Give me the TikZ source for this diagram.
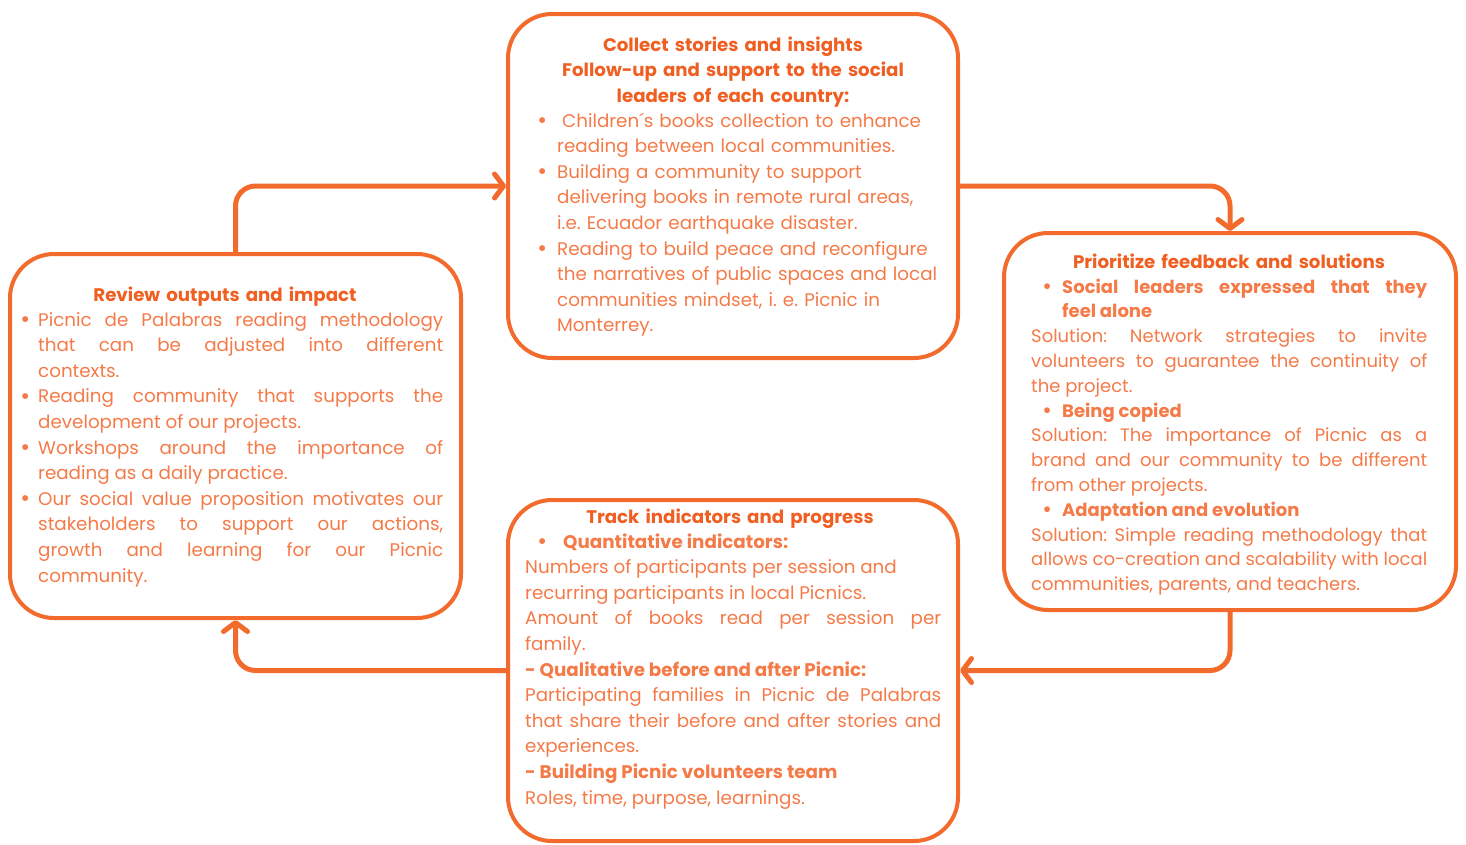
\documentclass[tikz,border=0pt]{standalone}
\usepackage{fontspec}
\setmainfont{Poppins}
\usetikzlibrary{arrows.meta}
\definecolor{picnic}{HTML}{F26B2C}
\definecolor{picnichead}{HTML}{EF5F22}
\definecolor{picnictext}{HTML}{F47A48}
\tikzset{>={Straight Barb[round,length=9pt,width=24pt]}}
\frenchspacing
% bullet paragraph: #1 bullet offset, #2 hanging indent
\newcommand\bul[2]{\noindent\hangindent=#2\relax\hangafter=1\relax\hbox to #2{\hskip#1\hbox to 6pt{\hss\raisebox{-1.2pt}{\scalebox{1.3}{\textbullet}}\hss}\hfil}\ignorespaces}
\newcommand\np{\par\noindent}

\begin{document}
\begin{tikzpicture}[x=1pt,y=-1pt,
  stage/.style={draw=picnic, line width=4pt, rounded corners=44pt, inner sep=0pt},
  flow/.style={draw=picnic, line width=5pt, rounded corners=20pt, ->, line cap=round},
  head/.style={text=picnichead, font=\fontsize{18.2}{25.5}\selectfont\bfseries, align=center, inner sep=0pt, anchor=base},
  body/.style={text=picnictext, font=\fontsize{18.3}{25.6}\selectfont, inner sep=0pt, anchor=base west, align=justify}
]
\useasboundingbox (0,0) rectangle (1466,844);

% the four stages
\node[stage, minimum width=450pt, minimum height=344pt] (collect) at (733,186) {};
\node[stage, minimum width=451pt, minimum height=364pt] (review) at (235.5,436) {};
\node[stage, minimum width=452pt, minimum height=377pt] (prio) at (1230,421.5) {};
\node[stage, minimum width=450pt, minimum height=341pt] (track) at (733,670.5) {};

% cycle
\draw[flow] (review.north) |- (collect.west);
\draw[flow] (collect.east) -| (prio.north);
\draw[flow] (prio.south) |- (track.east);
\draw[flow] (track.west) -| (review.south);

% collect
\node[head, text width=440pt] (collecthead) at (733,51) {Collect stories and insights\\Follow-up and support to the social\\leaders of each country:};
\node[body, text width=405pt, align=left] (collecttext) at (542,127) {%
\bul{-3pt}{15pt}\hspace{5pt}Children´s books collection to enhance\newline reading between local communities.
\par\bul{-3pt}{15pt}Building a community to support\newline delivering books in remote rural areas,\newline i.e. Ecuador earthquake disaster.
\par\bul{-3pt}{15pt}Reading to build peace and reconfigure\newline the narratives of public spaces and local\newline communities mindset, i. e. Picnic in\newline Monterrey.\par};

% review
\node[head, text width=440pt] (reviewhead) at (225,301) {Review outputs and impact};
\node[body, text width=419pt] (reviewtext) at (24,326) {%
\bul{-2pt}{14pt}Picnic de Palabras reading methodology\linebreak that can be adjusted into different\linebreak contexts.
\par\bul{-2pt}{14pt}Reading community that supports the\linebreak development of our projects.
\par\bul{-2pt}{14pt}Workshops around the importance of\linebreak reading as a daily practice.
\par\bul{-2pt}{14pt}Our social value proposition motivates our\linebreak stakeholders to support our actions,\linebreak growth and learning for our Picnic\linebreak community.\par};

% prioritize
\node[head, text width=440pt] (priohead) at (1229,268) {Prioritize feedback and solutions};
\node[body, text width=396pt, font=\fontsize{18}{24.8}\selectfont] (priotext) at (1031,293) {%
\bul{13pt}{31pt}\textbf{Social leaders expressed that they\linebreak feel alone}
\np Solution: Network strategies to invite\linebreak volunteers to guarantee the continuity of\linebreak the project.
\par\bul{13pt}{31pt}\textbf{Being copied}
\np Solution: The importance of Picnic as a\linebreak brand and our community to be different\linebreak from other projects.
\par\bul{13pt}{31pt}\textbf{Adaptation and evolution}
\np Solution: Simple reading methodology that\linebreak allows co-creation and scalability with local\linebreak communities, parents, and teachers.\par};

% track
\node[head, text width=440pt] (trackhead) at (730,523) {Track indicators and progress};
\node[body, text width=416pt] (tracktext) at (525,548) {%
\bul{14pt}{38pt}\textbf{Quantitative indicators:}
\np Numbers of participants per session and\newline recurring participants in local Picnics.
\np Amount of books read per session per\linebreak family.
\np\textbf{- Qualitative before and after Picnic:}
\np Participating families in Picnic de Palabras\linebreak that share their before and after stories and\linebreak experiences.
\np\textbf{- Building Picnic volunteers team}
\np Roles, time, purpose, learnings.\par};
\end{tikzpicture}
\end{document}
